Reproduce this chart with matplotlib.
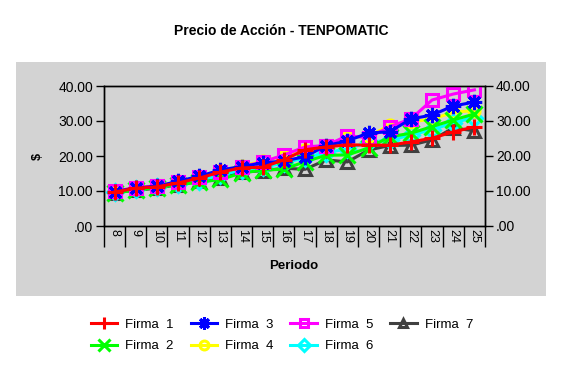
import matplotlib
matplotlib.use('Agg')
import matplotlib.pyplot as plt
from matplotlib.patches import Rectangle
from matplotlib.ticker import FixedLocator, FuncFormatter

plt.rcParams['font.family'] = ['Liberation Sans', 'DejaVu Sans']

periodos = list(range(8, 26))
firma1 = [9.7, 10.8, 11.2, 12.3, 13.7, 15.4, 16.6, 16.8, 18.9, 21.8, 22.6, 23.2, 23.1, 23.1, 24.0, 25.1, 26.9, 28.3]
firma2 = [9.5, 10.2, 11.0, 11.8, 12.5, 13.3, 15.1, 16.0, 16.2, 18.4, 20.2, 20.3, 22.3, 25.5, 26.5, 28.4, 30.3, 32.0]
firma3 = [9.8, 10.9, 11.3, 12.8, 14.2, 16.0, 17.0, 18.0, 18.6, 19.8, 23.0, 24.3, 26.6, 26.9, 30.6, 31.7, 34.3, 35.4]
firma4 = [9.9, 11.0, 11.5, 12.5, 14.0, 15.6, 17.2, 18.5, 20.0, 21.6, 22.8, 25.5, 25.5, 28.9, 29.8, 30.5, 32.5, 33.0]
firma5 = [9.9, 11.0, 11.4, 12.6, 13.9, 15.5, 17.0, 18.3, 20.3, 22.6, 23.0, 25.8, 25.2, 28.4, 30.6, 36.0, 37.7, 38.9]
firma6 = [9.6, 10.5, 11.2, 12.0, 13.0, 14.5, 16.0, 16.8, 18.0, 19.5, 21.0, 22.0, 24.0, 24.5, 26.0, 27.5, 29.5, 31.0]
firma7 = [9.5, 10.2, 10.8, 11.8, 12.8, 13.8, 15.4, 15.8, 16.5, 16.2, 18.9, 18.3, 21.7, 23.0, 23.1, 24.6, 28.0, 27.2]

fig = plt.figure(figsize=(5.62, 3.72), dpi=100)
fig.patch.set_facecolor('white')
fig.patches.append(Rectangle((16/562, 76/372), 530/562, 234/372, transform=fig.transFigure,
                             facecolor='#d3d3d3', edgecolor='none', zorder=-5))

ax = fig.add_axes([104/562, 146/372, 381/562, 140/372])
ax.set_facecolor('#d3d3d3')
x = list(range(len(periodos)))

series = [
    ('Firma  1', firma1, 'red', '+', 7),
    ('Firma  2', firma2, '#00ff00', 'x', 4),
    ('Firma  3', firma3, 'blue', (8, 2, 0), 6),
    ('Firma  4', firma4, 'yellow', 'o', 3),
    ('Firma  5', firma5, 'magenta', 's', 5),
    ('Firma  6', firma6, 'cyan', 'D', 2),
    ('Firma  7', firma7, '#404040', '^', 1),
]
for lab, vals, col, mk, z in series:
    ms = 11 if mk in ('+', 'x', (8, 2, 0)) else 8
    ax.plot(x, vals, color=col, lw=2.2, marker=mk, markersize=ms, markeredgewidth=2.2,
            markerfacecolor='none', markeredgecolor=col, label=lab, zorder=z + 2)

ax.set_xlim(-0.5, len(periodos) - 0.5)
ax.set_ylim(0, 40)
ax.xaxis.set_major_locator(FixedLocator([i - 0.5 for i in range(len(periodos) + 1)]))
ax.xaxis.set_minor_locator(FixedLocator(x))
ax.set_xticklabels([], minor=False)
ax.set_xticklabels([str(p) for p in periodos], minor=True, rotation=270, fontsize=9)
ax.tick_params(axis='x', which='major', length=15, width=1, direction='out')
ax.tick_params(axis='x', which='minor', length=0, pad=2)

fmt = FuncFormatter(lambda v, p: '.00' if v == 0 else '%.2f' % v)
ax.set_yticks([0, 10, 20, 30, 40])
ax.yaxis.set_major_formatter(fmt)
ax.tick_params(axis='y', length=6, width=1, labelsize=10, pad=2)

ax2 = ax.twinx()
ax2.set_ylim(0, 40)
ax2.set_yticks([0, 10, 20, 30, 40])
ax2.yaxis.set_major_formatter(fmt)
ax2.tick_params(axis='y', length=6, width=1, labelsize=10, pad=2)

for a in (ax, ax2):
    for s in a.spines.values():
        s.set_linewidth(1)

ax.set_ylabel(r'\$', fontsize=9, fontweight='bold', rotation=90)
ax.yaxis.set_label_coords(-60/381, 0.5)
fig.text(294/562, 1 - 266/372, 'Periodo', ha='center', va='center', fontsize=9.5, fontweight='bold')
fig.text(281/562, 1 - 31/372, 'Precio de Acción - TENPOMATIC', ha='center', va='center',
         fontsize=10, fontweight='bold')

fig.legend(loc='upper left', bbox_to_anchor=(84/562, 1 - 312/372), ncol=4, frameon=False,
           fontsize=9.5, handlelength=2.0, handletextpad=0.6, columnspacing=1.3,
           labelspacing=0.7, borderpad=0, markerscale=0.8)

plt.savefig('out.png', dpi=100)
